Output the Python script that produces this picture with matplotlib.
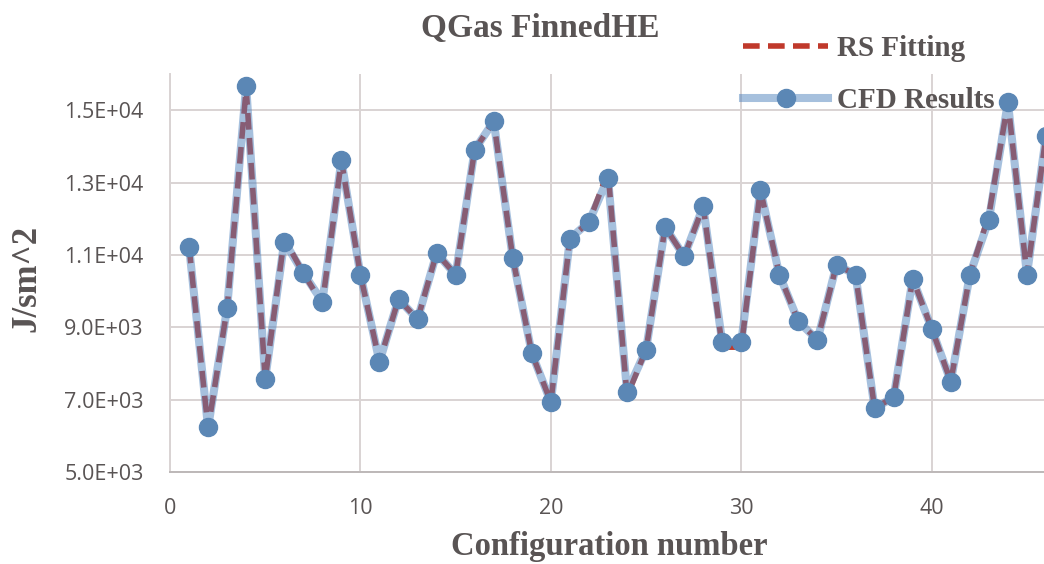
import matplotlib
matplotlib.use('Agg')
import matplotlib.pyplot as plt
from matplotlib.ticker import FuncFormatter

# Données
config = list(range(1, 47))
cfd_results = [11230, 6230, 9530, 15680, 7570, 11370, 10500, 9710, 13610, 10450,
               8050, 9780, 9220, 11050, 10450, 13910, 14690, 10910, 8280, 6930,
               11450, 11910, 13120, 7220, 8380, 11770, 10960, 12340, 8580, 8600,
               12800, 10450, 9160, 8650, 10730, 10450, 6760, 7070, 10340, 8960,
               7500, 10450, 11970, 15220, 10450, 14290]
rs_fitting = [11230, 6200, 9530, 15600, 7570, 11450, 10500, 9650, 13610, 10450,
              8050, 9780, 9220, 11050, 10450, 13910, 14690, 10910, 8280, 6930,
              11450, 11910, 13300, 7100, 8380, 11770, 10960, 12340, 8450, 8450,
              12800, 10450, 9160, 8650, 10730, 10450, 6760, 7070, 10340, 8960,
              7500, 10450, 12100, 15220, 10450, 14290]
y_ticks = [5000, 7000, 9000, 11000, 13000, 15000]
x_ticks = [0, 10, 20, 30, 40]

TEXT = '#595454'
GRID = '#D9D3D3'
SERIF = ['Liberation Serif', 'DejaVu Serif']
SANS = ['Open Sans', 'DejaVu Sans']

fig = plt.figure(figsize=(10.44, 5.64), dpi=100)
ax = fig.add_axes([170/1044, 1 - 472/564, 876/1044, 398/564])

ax.plot(config, rs_fitting, color='#C0392B', lw=4.0, dashes=(3.0, 1.5),
        label='RS Fitting', zorder=2)
ax.plot(config, cfd_results, color=(0.31, 0.51, 0.74, 0.5), lw=5.8,
        marker='o', markersize=13, markerfacecolor='#5B87B5',
        markeredgecolor='#5B87B5', label='CFD Results', zorder=3,
        clip_on=False)

ax.set_xlim(0, 46)
ax.set_ylim(5000, 16000)
ax.set_xticks(x_ticks)
ax.set_yticks(y_ticks)
ax.yaxis.set_major_formatter(FuncFormatter(lambda v, p: f'{v:.1E}'))

ax.grid(True, color=GRID, lw=1.4)
ax.set_axisbelow(True)
for s in ['top', 'right']:
    ax.spines[s].set_visible(False)
ax.spines['left'].set_color(GRID)
ax.spines['left'].set_linewidth(1.4)
ax.spines['bottom'].set_color('#BDB8B8')
ax.spines['bottom'].set_linewidth(1.4)
ax.tick_params(length=0, pad=19, labelsize=15.5, labelcolor=TEXT)
for lab in ax.get_xticklabels() + ax.get_yticklabels():
    lab.set_family(SANS)

fig.text(540/1044, 1 - 28/564, 'QGas FinnedHE', ha='center', va='center',
         fontsize=24, fontweight='bold', color=TEXT, family=SERIF)
fig.text(609/1044, 1 - 546/564, 'Configuration number', ha='center', va='center',
         fontsize=23.5, fontweight='bold', color=TEXT, family=SERIF)
fig.text(27/1044, 1 - 278/564, 'J/sm^2', ha='center', va='center', rotation=90,
         fontsize=25, fontweight='bold', color=TEXT, family=SERIF)

leg = ax.legend(loc='upper left', bbox_to_anchor=(717/1044, 1 - 9/564),
                bbox_transform=fig.transFigure, frameon=False,
                handlelength=2.9, handletextpad=0.3, labelspacing=0.85,
                prop={'family': SERIF, 'weight': 'bold', 'size': 21})
for t in leg.get_texts():
    t.set_color(TEXT)

plt.savefig('out.png', dpi=100)
plt.close()
